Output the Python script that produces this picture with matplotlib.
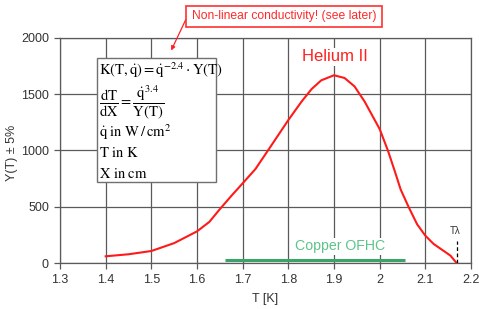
import matplotlib
matplotlib.use("Agg")
import matplotlib.pyplot as plt
from matplotlib.patches import Rectangle

plt.rcParams['font.family'] = ['Liberation Sans', 'DejaVu Sans']
plt.rcParams['mathtext.fontset'] = 'stix'

# Data
he_T = [1.40, 1.45, 1.50, 1.55, 1.60, 1.627, 1.65, 1.675, 1.70, 1.728, 1.757, 1.80, 1.829,
        1.851, 1.872, 1.90, 1.923, 1.945, 1.967, 2.00, 2.018, 2.032, 2.046, 2.064, 2.082,
        2.10, 2.118, 2.139, 2.155, 2.169]
he_Y = [62, 80, 109, 179, 283, 367, 480, 597, 709, 836, 1010, 1270, 1434,
        1545, 1622, 1667, 1643, 1568, 1434, 1190, 1000, 830, 654, 494, 346,
        245, 172, 113, 68, 0]
cu_T = [1.661, 2.055]
cu_Y = [27, 27]
x_ticks = [1.3, 1.4, 1.5, 1.6, 1.7, 1.8, 1.9, 2.0, 2.1, 2.2]
x_tick_labels = ['1.3', '1.4', '1.5', '1.6', '1.7', '1.8', '1.9', '2', '2.1', '2.2']
y_ticks = [0, 500, 1000, 1500, 2000]
t_lambda = 2.169

fig = plt.figure(figsize=(4.79, 3.09), dpi=100)
ax = fig.add_axes([0.1253, 0.1479, 0.8580, 0.7301])
ax.set_xlim(1.3, 2.2)
ax.set_ylim(0, 2000)
ax.set_xticks(x_ticks)
ax.set_xticklabels(x_tick_labels)
ax.set_yticks(y_ticks)

grid_c = '#5a5a5a'
ax.grid(True, color=grid_c, linewidth=0.9, zorder=0)
for s in ax.spines.values():
    s.set_color(grid_c)
    s.set_linewidth(0.9)
ax.tick_params(colors='#333333', labelsize=9, length=4, width=0.9, direction='out', color=grid_c, pad=4)
ax.set_xlabel('T [K]', fontsize=9, color='#333333')
ax.set_ylabel('Y(T) ± 5%', fontsize=9, color='#333333')
ax.xaxis.set_label_coords(0.5, -0.13)
ax.yaxis.set_label_coords(-0.102, 0.49)

ax.plot(he_T, he_Y, color='#ff1a1a', linewidth=1.5, zorder=4, solid_joinstyle='round')
ax.plot(cu_T, cu_Y, color='#3aa36a', linewidth=2.2, zorder=4, solid_capstyle='butt')

ax.text(1.903, 1830, 'Helium II', color='#ff2020', fontsize=12, ha='center', va='center',
        bbox=dict(facecolor='white', edgecolor='none', pad=1), zorder=3)
ax.text(1.913, 150, 'Copper OFHC', color='#5cc48a', fontsize=10.2, ha='center', va='center',
        bbox=dict(facecolor='white', edgecolor='none', pad=1), zorder=3)
ax.text(t_lambda - 0.004, 290, 'Tλ', color='#333333', fontsize=7, ha='center', va='center',
        bbox=dict(facecolor='white', edgecolor='none', pad=0.5), zorder=3)
ax.plot([t_lambda, t_lambda], [0, 200], color='black', linewidth=0.9, linestyle=(0, (3, 2)), zorder=5)

# Formula box (figure pixel coordinates)
W, H = 479, 309
def fx(px):
    return px / W
def fy(py):
    return 1 - py / H

box = Rectangle((fx(97), fy(182)), fx(216) - fx(97), fy(58) - fy(182), transform=fig.transFigure,
                facecolor='white', edgecolor='#707070', linewidth=1.0, zorder=10)
fig.patches.append(box)
fs = 10.5
fig.text(fx(99), fy(70), r'$\mathrm{K(T,\dot{q}) = \dot{q}^{-2.4}\cdot Y(T)}$', fontsize=fs, va='center', ha='left', zorder=11)
fig.text(fx(99), fy(102), r'$\mathrm{\dfrac{dT}{dX} = \dfrac{\dot{q}^{3.4}}{Y(T)}}$', fontsize=fs, va='center', ha='left', zorder=11)
fig.text(fx(99), fy(132), r'$\mathrm{\dot{q}\ in\ W\,/\,cm^{2}}$', fontsize=fs, va='center', ha='left', zorder=11)
fig.text(fx(99), fy(153), r'$\mathrm{T\ in\ K}$', fontsize=fs, va='center', ha='left', zorder=11)
fig.text(fx(99), fy(174), r'$\mathrm{X\ in\ cm}$', fontsize=fs, va='center', ha='left', zorder=11)

# Annotation box at top
fig.text((fx(186) + fx(382)) / 2, fy(16.5), 'Non-linear conductivity! (see later)', color='#ff2a2a',
         fontsize=8.7, ha='center', va='center', zorder=12)
fig.patches.append(Rectangle((fx(186), fy(27)), fx(382) - fx(186), fy(6) - fy(27), transform=fig.transFigure,
                             facecolor='none', edgecolor='#ff3030', linewidth=1.2, zorder=12))
ax.annotate('', xy=(fx(170), fy(53)), xycoords='figure fraction',
            xytext=(fx(187), fy(17)), textcoords='figure fraction',
            arrowprops=dict(arrowstyle='-|>', color='#ff2020', lw=0.9, mutation_scale=6),
            zorder=12, annotation_clip=False)

fig.savefig('out.png', dpi=100)
